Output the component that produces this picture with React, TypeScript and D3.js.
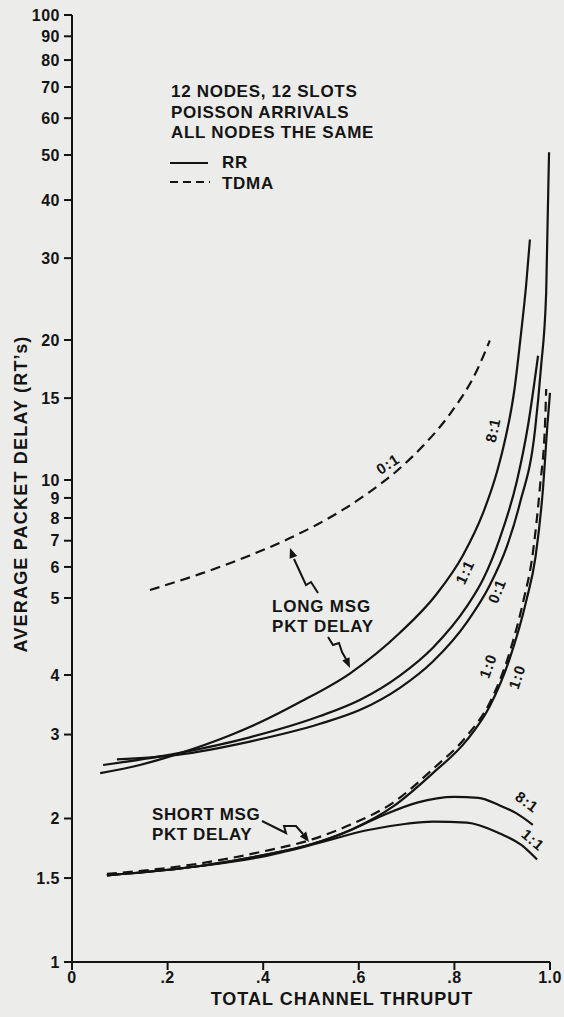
import React from 'react';
import * as d3 from 'd3';

// ---------- axis ticks ----------
const xTickValues = [0, 0.2, 0.4, 0.6, 0.8, 1.0];
const xTickLabels = ['0', '.2', '.4', '.6', '.8', '1.0'];
const yTickValues = [1, 1.5, 2, 3, 4, 5, 6, 7, 8, 9, 10, 15, 20, 30, 40, 50, 60, 70, 80, 90, 100];
const yTickLabels = ['1', '1.5', '2', '3', '4', '5', '6', '7', '8', '9', '10', '15', '20', '30', '40', '50', '60', '70', '80', '90', '100'];

// ---------- long message packet delay ----------
const longRR81Thruput = [0.059, 0.142, 0.22, 0.331, 0.387, 0.477, 0.582, 0.686, 0.763, 0.818, 0.86, 0.889, 0.906, 0.925, 0.939, 0.95, 0.958];
const longRR81Delay = [2.49, 2.59, 2.73, 2.99, 3.16, 3.51, 4.02, 4.52, 5.12, 6.43, 8.24, 10.4, 12.2, 15.5, 20.5, 26.2, 32.9];

const longRR11Thruput = [0.065, 0.22, 0.372, 0.519, 0.603, 0.686, 0.755, 0.826, 0.86, 0.895, 0.931, 0.954, 0.975];
const longRR11Delay = [2.59, 2.74, 2.96, 3.28, 3.55, 3.99, 4.33, 4.88, 5.58, 7.1, 9.97, 13.1, 18.5];

const longRR01Thruput = [0.094, 0.22, 0.372, 0.519, 0.603, 0.686, 0.755, 0.826, 0.874, 0.91, 0.937, 0.969, 0.981, 0.992, 0.998];
const longRR01Delay = [2.66, 2.72, 2.9, 3.16, 3.38, 3.76, 4.16, 4.66, 5.39, 6.78, 8.72, 12.9, 17.4, 25.3, 50.7];

const longTDMA01Thruput = [0.163, 0.268, 0.372, 0.456, 0.513, 0.567, 0.623, 0.68, 0.734, 0.791, 0.847, 0.874];
const longTDMA01Delay = [5.24, 5.76, 6.42, 7.11, 7.7, 8.4, 9.33, 10.47, 11.83, 13.88, 17.2, 19.95];

// ---------- short message packet delay ----------
const shortRR10Thruput = [0.073, 0.268, 0.393, 0.504, 0.582, 0.672, 0.755, 0.826, 0.874, 0.916, 0.95, 0.97, 0.985, 0.995, 1.0];
const shortRR10Delay = [1.52, 1.59, 1.67, 1.77, 1.89, 2.12, 2.49, 2.92, 3.44, 4.2, 4.95, 6.4, 9.4, 13.3, 15.4];

const shortTDMA10Thruput = [0.073, 0.268, 0.393, 0.504, 0.582, 0.672, 0.755, 0.826, 0.874, 0.916, 0.944, 0.964, 0.979, 0.99, 0.992];
const shortTDMA10Delay = [1.53, 1.61, 1.7, 1.81, 1.94, 2.16, 2.54, 2.98, 3.5, 4.28, 4.95, 6.5, 9.6, 13.5, 15.7];

const shortRR81Thruput = [0.073, 0.268, 0.393, 0.504, 0.582, 0.65, 0.722, 0.8, 0.85, 0.895, 0.93, 0.964];
const shortRR81Delay = [1.52, 1.59, 1.67, 1.77, 1.89, 2.03, 2.16, 2.22, 2.21, 2.13, 2.05, 1.94];

const shortRR11Thruput = [0.073, 0.268, 0.393, 0.51, 0.617, 0.7, 0.755, 0.826, 0.895, 0.94, 0.973];
const shortRR11Delay = [1.52, 1.59, 1.66, 1.77, 1.89, 1.95, 1.97, 1.96, 1.86, 1.76, 1.64];

const legendNotes = ['12 NODES, 12 SLOTS', 'POISSON ARRIVALS', 'ALL NODES THE SAME'];
const legendSeries = ['RR', 'TDMA'];

type Series = { x: number[]; y: number[]; dashed: boolean };
const seriesList: Series[] = [
  { x: longRR81Thruput, y: longRR81Delay, dashed: false },
  { x: longRR11Thruput, y: longRR11Delay, dashed: false },
  { x: longRR01Thruput, y: longRR01Delay, dashed: false },
  { x: longTDMA01Thruput, y: longTDMA01Delay, dashed: true },
  { x: shortRR10Thruput, y: shortRR10Delay, dashed: false },
  { x: shortTDMA10Thruput, y: shortTDMA10Delay, dashed: true },
  { x: shortRR81Thruput, y: shortRR81Delay, dashed: false },
  { x: shortRR11Thruput, y: shortRR11Delay, dashed: false },
];

const W = 564;
const H = 1017;
const INK = '#141414';
const FONT = '"Liberation Sans", Arial, Helvetica, sans-serif';

const xScale = d3.scaleLinear().domain([0, 1]).range([72, 550]);
// The printed log axis is slightly irregular, so it is piecewise log.
const yScale = d3.scaleLog().domain([1, 4, 5, 10, 100]).range([962, 675, 598, 480, 15]);

const line = d3
  .line<[number, number]>()
  .x((d) => xScale(d[0]))
  .y((d) => yScale(d[1]))
  .curve(d3.curveMonotoneX);

const curveLabels = [
  { t: '8:1', x: 493, y: 430, r: -78 },
  { t: '1:1', x: 465, y: 572, r: -65 },
  { t: '0:1', x: 497, y: 591, r: -68 },
  { t: '1:0', x: 488, y: 666, r: -70 },
  { t: '1:0', x: 517, y: 677, r: -72 },
  { t: '0:1', x: 388, y: 464, r: -33 },
  { t: '8:1', x: 527, y: 802, r: 36 },
  { t: '1:1', x: 533, y: 840, r: 40 },
];

export default function App() {
  return (
    <svg
      width={W}
      height={H}
      viewBox={`0 0 ${W} ${H}`}
      style={{ position: 'absolute', left: 0, top: 0, background: '#ececea' }}
      fontFamily={FONT}
      fontWeight="bold"
      fill={INK}
    >
      <rect x={0} y={0} width={W} height={H} fill="#ececea" />

      {/* axes */}
      <line x1={72} x2={72} y1={yScale(100)} y2={970} stroke={INK} strokeWidth={2} />
      <line x1={64} x2={xScale(1)} y1={yScale(1)} y2={yScale(1)} stroke={INK} strokeWidth={2} />
      {yTickValues.map((v, i) => (
        <g key={'yt' + i}>
          <line x1={64} x2={72} y1={yScale(v)} y2={yScale(v)} stroke={INK} strokeWidth={2} />
          <text x={60} y={yScale(v)} dy="0.36em" textAnchor="end" fontSize={16} letterSpacing={0.5}>
            {yTickLabels[i]}
          </text>
        </g>
      ))}
      {xTickValues.map((v, i) => (
        <g key={'xt' + i}>
          <line x1={xScale(v)} x2={xScale(v)} y1={yScale(1)} y2={970} stroke={INK} strokeWidth={2} />
          <text x={xScale(v)} y={983} textAnchor="middle" fontSize={16} letterSpacing={0.5}>
            {xTickLabels[i]}
          </text>
        </g>
      ))}
      <text x={342} y={1005} textAnchor="middle" fontSize={18} letterSpacing={1}>
        TOTAL CHANNEL THRUPUT
      </text>
      <text
        transform={`translate(27,494) rotate(-90)`}
        textAnchor="middle"
        fontSize={18}
        letterSpacing={1.2}
      >
        AVERAGE PACKET DELAY (RT’s)
      </text>

      {/* curves */}
      {seriesList.map((s, i) => (
        <path
          key={'s' + i}
          d={line(s.x.map((x, j) => [x, s.y[j]] as [number, number])) || ''}
          fill="none"
          stroke={INK}
          strokeWidth={2.2}
          strokeDasharray={s.dashed ? '10,6' : undefined}
        />
      ))}

      {/* curve labels */}
      {curveLabels.map((l, i) => (
        <text
          key={'cl' + i}
          transform={`translate(${l.x},${l.y}) rotate(${l.r})`}
          textAnchor="middle"
          dy="0.35em"
          fontSize={15}
          letterSpacing={1}
        >
          {l.t}
        </text>
      ))}

      {/* legend */}
      {legendNotes.map((t, i) => (
        <text key={'ln' + i} x={171} y={97 + i * 20.5} fontSize={17} letterSpacing={0.7}>
          {t}
        </text>
      ))}
      <line x1={170} x2={208} y1={163} y2={163} stroke={INK} strokeWidth={2} />
      <line x1={170} x2={210} y1={182} y2={182} stroke={INK} strokeWidth={2} strokeDasharray="8,5" />
      {legendSeries.map((t, i) => (
        <text key={'ls' + i} x={222} y={168 + i * 20.5} fontSize={17} letterSpacing={0.7}>
          {t}
        </text>
      ))}

      {/* annotations */}
      <text x={272} y={612} fontSize={17} letterSpacing={0.8}>LONG MSG</text>
      <text x={272} y={632} fontSize={17} letterSpacing={0.8}>PKT DELAY</text>
      <text x={152} y={820} fontSize={17} letterSpacing={0.6}>SHORT MSG</text>
      <text x={152} y={840} fontSize={17} letterSpacing={0.6}>PKT DELAY</text>

      <path d="M318,593 L311,582 L306,585 L300,572 L294,559" fill="none" stroke={INK} strokeWidth={2} />
      <polygon points="290,548 297.2,556 289.6,558.8" fill={INK} />
      <path d="M328,637 L333,645 L339,643 L342,652 L346,659" fill="none" stroke={INK} strokeWidth={2} />
      <polygon points="350,668 349.5,657.3 342.3,660.5" fill={INK} />
      <path d="M262,821 L286,833 L284,826 L296,826 L303,834" fill="none" stroke={INK} strokeWidth={2} />
      <polygon points="309,842 306.2,831.6 299.8,836.4" fill={INK} />
    </svg>
  );
}
